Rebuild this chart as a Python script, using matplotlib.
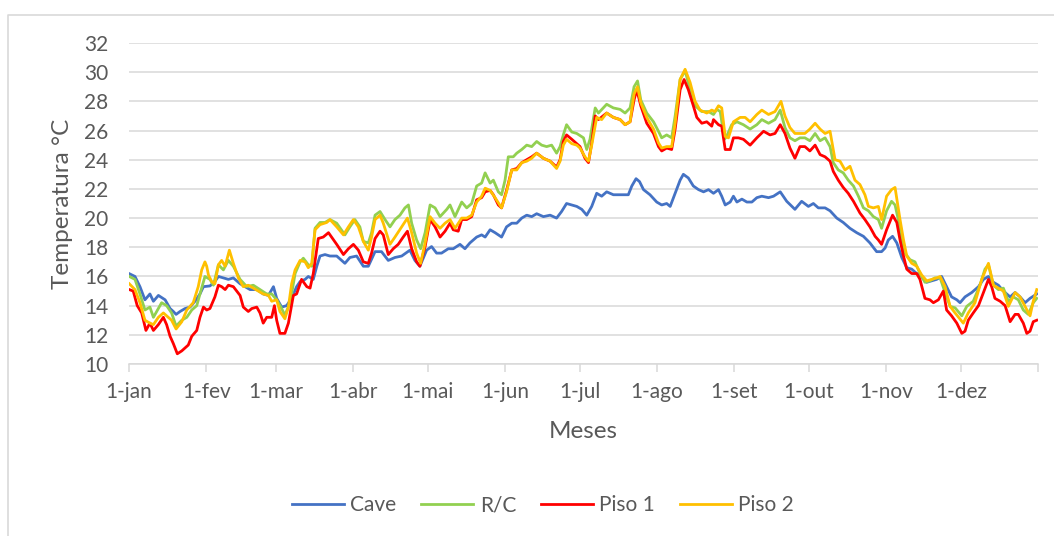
import numpy as np
import matplotlib
matplotlib.use("Agg")
import matplotlib.pyplot as plt
from matplotlib.lines import Line2D

plt.rcParams['font.family'] = ['Lato', 'DejaVu Sans']

# month starts (day of year) and labels
month_start = [0, 31, 59, 90, 120, 151, 181, 212, 243, 273, 304, 334, 365]
month_label = ['1-jan', '1-fev', '1-mar', '1-abr', '1-mai', '1-jun', '1-jul',
               '1-ago', '1-set', '1-out', '1-nov', '1-dez', '']

series_names = ['Cave', 'R/C', 'Piso 1', 'Piso 2']
series_colors = ['#4472C4', '#92D050', '#FF0000', '#FFC000']

# (day of year, temperature)
cave = [(0, 16.2), (2.4, 16.0), (4.4, 15.3), (6.4, 14.4), (8.4, 14.8), (9.8, 14.3), (11.8, 14.7),
        (14.5, 14.4), (16.5, 13.8), (17.8, 13.6), (18.9, 13.4), (20.5, 13.6), (22.5, 13.8),
        (24.5, 13.9), (26.5, 14.3), (28.5, 14.8), (29.9, 15.3), (32.5, 15.35), (34.5, 15.65),
        (35.9, 16.0), (37.9, 15.9), (39.9, 15.8), (41.9, 15.9), (44.6, 15.5), (46.6, 15.3),
        (48.6, 15.1), (51.3, 15.1), (53.9, 14.8), (56.0, 14.7), (58.0, 15.3), (59.3, 14.5),
        (61.3, 13.9), (63.3, 14.0), (65.3, 14.5), (67.3, 15.3), (68.7, 15.65), (70.7, 15.8),
        (72.0, 16.0), (74.0, 15.8), (75.4, 16.7), (76.7, 17.4), (78.7, 17.5), (80.7, 17.4),
        (83.4, 17.4), (86.7, 16.9), (88.7, 17.3), (91.4, 17.4), (94.1, 16.7), (96.1, 16.7),
        (98.8, 17.7), (101.4, 17.7), (104.1, 17.1), (106.8, 17.3), (109.5, 17.4), (112.8, 17.8),
        (114.8, 17.1), (116.8, 16.7), (119.5, 17.8), (121.5, 18.05), (123.5, 17.6), (125.5, 17.6),
        (128.2, 17.9), (130.2, 17.9), (132.9, 18.2), (134.9, 17.9), (136.9, 18.3), (139.6, 18.7),
        (141.6, 18.85), (143.0, 18.7), (145.0, 19.2), (147.0, 19.0), (149.6, 18.7), (151.6, 19.4),
        (153.7, 19.65), (155.7, 19.65), (157.7, 20.0), (159.7, 20.2), (161.7, 20.1), (163.7, 20.3),
        (166.4, 20.1), (169.1, 20.2), (171.7, 20.0), (173.7, 20.45), (175.7, 21.0), (177.8, 20.9),
        (179.8, 20.8), (181.8, 20.6), (183.8, 20.2), (185.8, 20.8), (187.8, 21.7), (189.8, 21.5),
        (191.8, 21.8), (194.5, 21.6), (197.9, 21.6), (200.5, 21.6), (201.9, 22.2), (203.6, 22.7),
        (205.0, 22.5), (206.6, 21.95), (209.2, 21.6), (211.9, 21.1), (213.9, 20.9), (215.9, 21.0),
        (217.3, 20.8), (219.3, 21.7), (221.3, 22.6), (222.6, 23.0), (224.6, 22.75), (226.6, 22.2),
        (228.7, 21.95), (230.7, 21.8), (232.7, 21.95), (234.7, 21.7), (236.7, 21.95), (238.0, 21.5),
        (239.4, 20.9), (241.4, 21.1), (242.7, 21.5), (244.1, 21.1), (246.1, 21.3), (248.1, 21.1),
        (250.1, 21.1), (252.1, 21.4), (254.1, 21.5), (256.8, 21.4), (258.8, 21.5), (261.5, 21.8),
        (264.1, 21.15), (267.4, 20.6), (270.1, 21.15), (272.8, 20.8), (274.8, 21.0), (276.8, 20.7),
        (279.5, 20.7), (281.5, 20.5), (284.2, 20.0), (286.8, 19.7), (289.5, 19.3), (292.2, 19.0),
        (294.9, 18.75), (297.5, 18.3), (300.2, 17.7), (302.2, 17.7), (303.6, 17.95), (304.9, 18.5),
        (306.6, 18.75), (308.3, 18.3), (310.3, 17.3), (312.3, 16.6), (314.3, 16.5), (316.3, 16.2),
        (318.3, 16.0), (320.3, 15.6), (322.3, 15.7), (324.3, 15.8), (326.3, 16.0), (328.3, 15.3),
        (330.3, 14.6), (332.4, 14.4), (333.7, 14.2), (335.7, 14.6), (338.4, 14.9), (341.1, 15.3),
        (343.1, 15.8), (345.1, 16.0), (347.1, 15.6), (349.1, 15.4), (351.1, 15.0), (353.8, 14.6),
        (355.8, 14.9), (357.8, 14.6), (359.8, 14.2), (361.8, 14.5), (364.5, 14.8)]

rc = [(0.1, 16.0), (2.4, 15.8), (4.4, 14.8), (6.4, 13.7), (8.4, 13.9), (9.8, 13.2), (11.1, 13.6),
      (13.1, 14.2), (15.1, 14.0), (17.1, 13.5), (18.9, 12.6), (21.2, 13.0), (23.2, 13.2),
      (25.2, 13.7), (27.2, 14.0), (28.5, 14.8), (30.5, 16.0), (32.5, 15.8), (33.9, 15.4),
      (35.9, 16.8), (37.9, 16.45), (39.9, 17.1), (41.9, 16.7), (44.6, 15.8), (47.3, 15.3),
      (49.9, 15.4), (52.6, 15.1), (55.3, 14.8), (57.3, 14.8), (59.3, 14.4), (61.3, 13.8),
      (62.6, 13.35), (64.7, 14.2), (66.7, 16.2), (68.7, 17.0), (70.0, 17.25), (72.0, 16.8),
      (73.4, 16.7), (74.7, 19.3), (76.7, 19.7), (78.7, 19.7), (80.7, 19.9), (83.4, 19.65),
      (86.7, 18.85), (88.7, 19.4), (90.7, 19.9), (92.7, 19.4), (94.1, 18.4), (96.1, 18.3),
      (97.4, 19.0), (98.8, 20.2), (100.8, 20.45), (102.8, 19.9), (104.8, 19.4), (106.8, 19.9),
      (108.8, 20.2), (110.8, 20.7), (112.2, 20.9), (113.5, 19.65), (115.5, 18.5), (117.1, 17.9),
      (118.9, 19.0), (120.9, 20.9), (122.9, 20.7), (124.9, 20.1), (127.6, 20.6), (128.9, 20.9),
      (130.9, 20.1), (133.6, 21.1), (135.6, 20.7), (137.6, 21.0), (139.6, 22.2), (141.6, 22.4),
      (143.0, 23.1), (145.0, 22.4), (146.3, 22.6), (148.3, 21.8), (149.6, 21.6), (151.0, 22.6),
      (152.3, 24.2), (154.3, 24.2), (155.7, 24.45), (157.7, 24.7), (159.7, 25.0), (161.7, 24.9),
      (163.7, 25.25), (165.7, 25.0), (167.7, 24.9), (169.7, 25.0), (171.7, 24.45), (173.1, 24.9),
      (174.4, 25.7), (175.7, 26.4), (177.8, 25.9), (179.8, 25.8), (182.5, 25.5), (183.8, 24.7),
      (185.1, 25.4), (187.2, 27.55), (188.5, 27.2), (191.8, 27.8), (194.5, 27.55), (197.2, 27.45),
      (199.2, 27.2), (201.2, 27.55), (202.8, 29.0), (204.2, 29.4), (205.5, 28.1), (207.9, 27.2),
      (210.6, 26.6), (212.6, 25.95), (213.9, 25.5), (215.9, 25.7), (217.9, 25.5), (219.3, 27.0),
      (221.3, 29.5), (223.3, 30.1), (225.3, 28.8), (227.3, 27.7), (230.0, 27.3), (232.7, 27.3),
      (234.7, 27.1), (236.0, 27.45), (237.4, 27.3), (239.1, 25.4), (240.0, 25.6), (242.0, 26.4),
      (244.1, 26.6), (246.7, 26.4), (249.4, 26.1), (252.1, 26.4), (254.1, 26.75), (256.8, 26.5),
      (259.4, 26.75), (261.5, 27.4), (263.4, 26.2), (265.4, 25.5), (267.4, 25.3), (269.4, 25.5),
      (271.4, 25.5), (273.4, 25.3), (275.5, 25.8), (277.5, 25.3), (279.5, 25.5), (281.5, 24.9),
      (282.8, 23.8), (284.8, 23.3), (286.8, 23.1), (288.8, 22.6), (290.9, 22.2), (292.9, 21.5),
      (294.9, 20.7), (296.9, 20.5), (298.9, 20.1), (300.9, 19.9), (302.2, 19.3), (304.2, 20.5),
      (306.2, 21.15), (307.6, 20.9), (308.9, 19.9), (310.3, 18.5), (311.6, 17.6), (313.6, 17.15),
      (315.6, 17.0), (317.6, 16.2), (319.6, 15.6), (321.6, 15.7), (323.6, 15.9), (325.7, 15.9),
      (327.7, 14.9), (329.7, 13.95), (331.7, 13.85), (334.4, 13.3), (336.4, 13.95), (339.0, 14.3),
      (341.7, 15.4), (343.7, 16.5), (345.1, 16.8), (347.1, 15.4), (349.1, 15.1), (351.1, 15.2),
      (353.1, 14.3), (355.1, 14.6), (357.1, 14.4), (359.1, 13.7), (361.1, 13.4), (363.1, 14.2),
      (364.5, 14.5)]

piso1 = [(0.1, 15.1), (1.7, 15.0), (3.3, 14.0), (5.1, 13.5), (6.8, 12.3), (8.4, 12.8), (9.8, 12.3),
         (11.8, 12.7), (13.8, 13.2), (15.1, 12.7), (16.5, 11.9), (17.8, 11.4), (19.4, 10.7),
         (21.2, 10.9), (23.8, 11.3), (25.2, 11.9), (27.2, 12.3), (28.5, 13.2), (29.9, 13.9),
         (31.2, 13.7), (32.5, 13.8), (34.5, 14.6), (35.9, 15.4), (37.2, 15.3), (38.6, 15.1),
         (39.9, 15.4), (41.9, 15.3), (44.6, 14.7), (45.9, 13.9), (47.9, 13.6), (49.3, 13.8),
         (51.3, 13.9), (52.6, 13.5), (53.9, 12.8), (55.3, 13.2), (57.3, 13.2), (58.4, 14.0),
         (59.3, 13.0), (60.6, 12.1), (62.6, 12.1), (64.0, 12.8), (66.0, 14.7), (67.3, 14.8),
         (69.3, 15.8), (71.4, 15.3), (72.7, 15.2), (74.0, 16.2), (76.0, 18.6), (78.0, 18.7),
         (80.1, 19.0), (83.4, 18.2), (86.1, 17.5), (88.1, 17.9), (90.1, 18.2), (92.1, 17.8),
         (94.1, 17.0), (96.1, 16.9), (97.4, 17.6), (98.8, 18.6), (100.8, 19.1), (102.1, 18.85),
         (104.1, 17.5), (106.1, 17.9), (108.1, 18.2), (110.1, 18.7), (111.8, 19.1), (113.5, 17.9),
         (115.5, 17.0), (116.8, 16.7), (118.9, 18.05), (120.9, 19.9), (122.9, 19.4), (124.9, 18.7),
         (126.9, 19.1), (128.9, 19.65), (130.2, 19.2), (132.2, 19.1), (133.6, 19.9), (135.6, 19.9),
         (137.6, 20.1), (139.6, 21.25), (141.6, 21.4), (143.0, 21.8), (145.0, 21.9), (146.3, 21.6),
         (148.3, 20.9), (149.6, 20.7), (151.6, 21.9), (153.7, 23.3), (155.7, 23.4), (157.7, 23.8),
         (159.7, 24.0), (161.7, 24.2), (163.7, 24.45), (166.4, 24.1), (169.1, 23.9), (171.7, 23.5),
         (173.1, 24.0), (174.4, 25.25), (175.7, 25.7), (177.8, 25.4), (179.8, 25.1), (181.1, 24.9),
         (183.1, 24.1), (184.5, 23.8), (185.8, 25.15), (187.2, 27.0), (188.5, 26.75), (191.8, 27.2),
         (194.5, 26.9), (197.2, 26.75), (199.2, 26.4), (201.2, 26.6), (202.8, 28.1), (203.9, 28.8),
         (205.5, 27.7), (207.9, 26.5), (210.6, 25.8), (212.6, 24.9), (213.9, 24.6), (215.9, 24.8),
         (217.9, 24.7), (219.3, 26.1), (221.3, 28.8), (222.9, 29.5), (224.6, 28.8), (226.6, 27.7),
         (228.0, 26.9), (230.0, 26.5), (232.0, 26.6), (234.0, 26.3), (234.7, 26.75), (236.7, 26.4),
         (238.0, 26.3), (239.4, 24.7), (241.4, 24.7), (242.7, 25.5), (244.7, 25.5), (246.7, 25.4),
         (249.4, 25.0), (252.1, 25.5), (254.8, 25.95), (257.4, 25.7), (259.4, 25.8), (261.5, 26.4),
         (263.4, 25.8), (265.4, 24.8), (267.4, 24.1), (269.4, 24.9), (271.4, 24.9), (273.4, 24.6),
         (275.5, 25.0), (277.5, 24.35), (279.5, 24.2), (281.5, 23.9), (282.8, 23.2), (284.8, 22.6),
         (286.8, 22.1), (288.8, 21.7), (290.9, 21.15), (293.5, 20.35), (295.5, 19.9), (297.5, 19.4),
         (299.6, 18.75), (300.9, 18.5), (302.2, 18.2), (304.2, 19.2), (306.6, 20.2), (308.3, 19.7),
         (309.6, 18.5), (311.0, 17.4), (312.3, 16.5), (314.3, 16.2), (316.3, 16.2), (317.6, 15.8),
         (319.6, 14.5), (321.6, 14.4), (323.0, 14.2), (325.0, 14.4), (327.0, 15.0), (328.3, 13.7),
         (330.3, 13.3), (332.4, 12.8), (334.4, 12.1), (335.7, 12.25), (337.0, 13.0), (339.0, 13.5),
         (341.1, 14.0), (343.1, 14.9), (345.1, 15.8), (346.4, 15.3), (347.7, 14.5), (349.8, 14.3),
         (351.8, 14.0), (353.8, 12.9), (355.8, 13.4), (357.1, 13.4), (359.1, 12.8), (360.5, 12.1),
         (361.8, 12.25), (363.1, 12.9), (364.5, 13.0)]

piso2 = [(0.1, 15.5), (2.4, 15.1), (4.4, 14.2), (6.4, 13.0), (8.4, 12.8), (9.8, 12.7), (11.8, 13.2),
         (13.8, 13.5), (15.8, 13.2), (17.1, 13.0), (18.9, 12.4), (21.2, 12.9), (23.2, 13.7),
         (25.8, 14.2), (27.8, 15.3), (29.2, 16.45), (30.5, 17.0), (31.2, 16.7), (31.9, 16.1),
         (33.2, 15.65), (34.5, 15.5), (35.9, 16.8), (37.2, 17.1), (38.6, 16.7), (40.3, 17.8),
         (41.9, 16.9), (43.9, 15.9), (45.9, 15.3), (47.9, 15.4), (49.9, 15.2), (51.9, 15.0),
         (53.9, 14.8), (56.0, 14.7), (57.3, 14.3), (59.3, 14.4), (60.6, 13.6), (62.6, 13.1),
         (64.0, 13.9), (65.3, 15.5), (66.7, 16.45), (68.7, 17.1), (70.7, 17.0), (72.0, 16.6),
         (73.4, 16.9), (74.7, 19.2), (76.7, 19.55), (79.4, 19.7), (80.7, 19.9), (83.4, 19.4),
         (86.1, 18.85), (88.1, 19.4), (90.1, 19.9), (92.1, 19.4), (94.1, 18.4), (96.1, 17.8),
         (97.4, 18.7), (98.8, 19.9), (100.8, 20.2), (102.1, 19.65), (104.8, 18.2), (106.8, 18.7),
         (109.5, 19.4), (111.8, 20.0), (113.5, 19.0), (115.5, 17.6), (117.1, 16.9), (118.9, 18.3),
         (120.9, 20.1), (122.9, 19.65), (124.9, 19.3), (126.9, 19.65), (128.9, 19.9), (130.9, 19.3),
         (133.6, 20.0), (135.6, 20.0), (137.6, 20.2), (139.6, 21.1), (141.6, 21.5), (143.0, 22.05),
         (145.0, 21.9), (147.0, 21.4), (149.6, 20.7), (151.6, 21.8), (153.7, 23.3), (155.7, 23.3),
         (157.7, 23.8), (159.7, 23.9), (161.7, 24.1), (163.7, 24.45), (166.4, 24.1), (169.1, 23.9),
         (171.7, 23.4), (173.1, 23.9), (174.4, 25.0), (175.7, 25.4), (177.8, 25.1), (179.8, 25.0),
         (181.1, 24.8), (183.1, 24.2), (184.5, 23.9), (185.8, 25.0), (187.8, 26.9), (189.8, 26.75),
         (191.8, 27.2), (194.5, 26.9), (197.2, 26.75), (199.2, 26.4), (201.2, 26.6), (202.8, 28.5),
         (204.2, 29.0), (205.5, 27.9), (207.9, 26.9), (210.6, 26.1), (212.6, 25.15), (213.9, 24.8),
         (215.9, 24.9), (217.9, 24.9), (219.3, 26.5), (221.3, 29.5), (223.3, 30.2), (225.3, 29.3),
         (227.3, 28.0), (229.3, 27.4), (232.0, 27.2), (234.0, 27.4), (235.3, 27.3), (236.7, 27.7),
         (238.0, 27.55), (239.4, 25.6), (240.7, 25.5), (242.7, 26.6), (245.4, 26.9), (247.4, 26.9),
         (249.4, 26.6), (252.1, 27.1), (254.1, 27.4), (256.8, 27.1), (259.4, 27.3), (261.8, 28.0),
         (263.4, 27.0), (265.4, 26.2), (267.4, 25.8), (269.4, 25.8), (271.4, 25.8), (273.4, 26.1),
         (275.5, 26.5), (277.5, 26.1), (279.5, 25.8), (281.5, 25.95), (283.5, 24.0), (285.5, 23.9),
         (287.5, 23.3), (289.5, 23.55), (291.5, 22.6), (293.5, 22.3), (295.5, 21.6), (296.9, 20.8),
         (298.9, 20.7), (300.9, 20.8), (302.2, 19.9), (304.2, 21.5), (306.2, 21.95), (307.6, 22.1),
         (309.6, 19.9), (311.0, 18.5), (312.3, 17.4), (314.3, 16.9), (316.3, 16.7), (318.3, 16.1),
         (320.3, 15.7), (322.3, 15.8), (324.3, 15.9), (325.7, 16.0), (327.7, 15.3), (329.7, 13.95),
         (331.7, 13.5), (335.0, 12.8), (337.0, 13.5), (339.7, 14.2), (342.4, 15.8), (345.1, 16.9),
         (347.1, 15.4), (349.1, 15.2), (351.1, 15.0), (353.1, 13.95), (355.8, 14.9), (357.8, 14.6),
         (359.8, 13.95), (361.8, 13.3), (363.1, 14.3), (364.5, 15.1)]

text_color = '#595959'
grid_color = '#D9D9D9'

fig = plt.figure(figsize=(10.54, 5.36), dpi=100)
ax = fig.add_axes([129 / 1054, 1 - 364 / 536, 909 / 1054, 321 / 536])

for data, name, color in zip([cave, rc, piso1, piso2], series_names, series_colors):
    d = np.array(data)
    ax.plot(d[:, 0], d[:, 1], color=color, lw=2.0, label=name, solid_joinstyle='round')

ax.set_xlim(0, 365)
ax.set_ylim(10, 32)
ax.set_yticks(range(10, 33, 2))
ax.set_xticks(month_start)
ax.set_xticklabels(month_label)
ax.grid(axis='y', color=grid_color, lw=1.1)
ax.set_axisbelow(True)
for s in ['top', 'right', 'left']:
    ax.spines[s].set_visible(False)
ax.spines['bottom'].set_color(grid_color)
ax.spines['bottom'].set_linewidth(1.1)
ax.tick_params(axis='x', colors=grid_color, length=6, width=1.1, direction='out',
               labelcolor=text_color, labelsize=15, pad=7)
ax.tick_params(axis='y', length=0, labelcolor=text_color, labelsize=15, pad=15)

ax.set_ylabel('Temperatura °C', color=text_color, fontsize=17.5, labelpad=8)
ax.set_xlabel('Meses', color=text_color, fontsize=17.5, labelpad=14)

handles = [Line2D([], [], color=c, lw=2.0) for c in series_colors]
fig.legend(handles, series_names, loc='center', bbox_to_anchor=(543 / 1054, 1 - 505 / 536),
           ncol=4, frameon=False, fontsize=15, labelcolor=text_color,
           handlelength=2.5, columnspacing=1.2, handletextpad=0.3)

# chart area border (top and left visible)
fig.add_artist(Line2D([8 / 1054, 8 / 1054, 1], [0, 1 - 14.5 / 536, 1 - 14.5 / 536],
                      transform=fig.transFigure, color=grid_color, lw=1.2))

fig.savefig('out.png', dpi=100)
